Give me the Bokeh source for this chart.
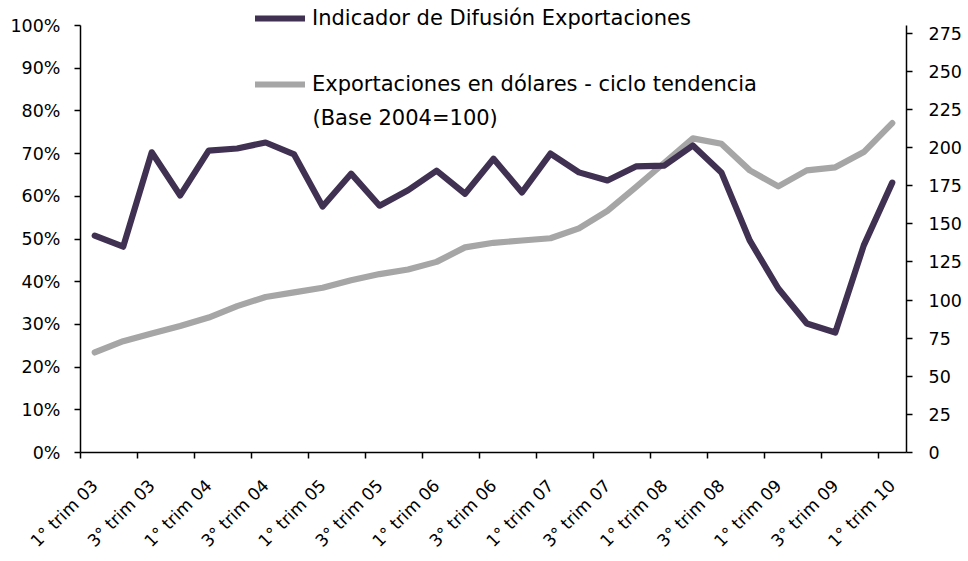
import math
from bokeh.plotting import figure
from bokeh.models import (Range1d, LinearAxis, FixedTicker, NumeralTickFormatter,
                          Legend, LegendItem, Label)
from bokeh.embed import file_html
from bokeh.resources import INLINE

# ---- data -------------------------------------------------------------
quarters = []
for yy in ["03", "04", "05", "06", "07", "08", "09"]:
    for q in ["1°", "2°", "3°", "4°"]:
        quarters.append(f"{q} trim {yy}")
quarters.append("1° trim 10")

# Indicador de Difusión Exportaciones (share, left axis)
indicador = [0.508, 0.482, 0.703, 0.602, 0.707, 0.712, 0.726, 0.698, 0.576, 0.653,
             0.578, 0.614, 0.660, 0.606, 0.688, 0.609, 0.700, 0.656, 0.637, 0.670,
             0.672, 0.719, 0.656, 0.496, 0.384, 0.302, 0.281, 0.485, 0.632]

# Exportaciones en dólares - ciclo tendencia (Base 2004=100, right axis)
exportaciones = [65.6, 73, 78, 83, 88.5, 96, 102, 105, 108, 113,
                 117, 120, 125, 134.5, 137.5, 139, 140.5, 147, 158.5, 174,
                 190, 206, 202.5, 185, 174.5, 185, 187, 197, 216]

left_ticks = [0.0, 0.1, 0.2, 0.3, 0.4, 0.5, 0.6, 0.7, 0.8, 0.9, 1.0]
right_ticks = [0, 25, 50, 75, 100, 125, 150, 175, 200, 225, 250, 275]
LEFT_MAX = 1.0
RIGHT_MAX = 280

x = list(range(len(quarters)))

FONT = "DejaVu Sans"
YFS = "17.5px"
XFS = "17px"
LFS = "21px"
DARK = "#403052"
GRAY = "#a6a6a6"
LW = 6.2

# frame spans page y 2..452; axes themselves are drawn 0..max (page y 25..452)
TOP_PAD = 23.0 / 427.0
p = figure(width=968, height=561, output_backend="svg", toolbar_location=None,
           x_range=Range1d(-0.5, len(quarters) - 0.5),
           y_range=Range1d(0, LEFT_MAX * (1 + TOP_PAD)),
           min_border_left=80, min_border_right=62, min_border_top=2,
           min_border_bottom=109)
p.extra_y_ranges = {"y2": Range1d(0, RIGHT_MAX * (1 + TOP_PAD))}
p.xgrid.visible = False
p.ygrid.visible = False
p.outline_line_color = None
p.background_fill_color = "white"
p.border_fill_color = "white"

r2 = p.line(x, exportaciones, y_range_name="y2", line_color=GRAY, line_width=LW,
            line_join="round", line_cap="round")
r1 = p.line(x, indicador, line_color=DARK, line_width=LW,
            line_join="round", line_cap="round")

# x axis
xa = p.xaxis[0]
major = list(range(0, len(quarters), 2))
xa.ticker = FixedTicker(ticks=major,
                        minor_ticks=[m - 0.5 for m in major])
xa.major_label_overrides = {i: quarters[i] for i in major}
xa.major_label_orientation = math.pi / 4
xa.major_tick_out = 0
xa.major_tick_in = 0
xa.minor_tick_out = 6
xa.minor_tick_in = 0
xa.minor_tick_line_color = "black"
xa.minor_tick_line_width = 1.5
xa.axis_line_color = "black"
xa.axis_line_width = 1.5
xa.major_label_standoff = 24
xa.major_label_text_font = FONT
xa.major_label_text_font_size = XFS
xa.major_label_text_color = "black"

# left axis
ya = p.yaxis[0]
ya.ticker = FixedTicker(ticks=left_ticks)
ya.formatter = NumeralTickFormatter(format="0%")
ya.bounds = (0, LEFT_MAX)
ya.major_tick_out = 6
ya.major_tick_in = 0
ya.minor_tick_out = 0
ya.minor_tick_in = 0
ya.major_tick_line_width = 1.5
ya.axis_line_width = 1.5
ya.axis_line_color = "black"
ya.major_label_standoff = 14
ya.major_label_text_font = FONT
ya.major_label_text_font_size = YFS
ya.major_label_text_color = "black"

# right axis
ra = LinearAxis(y_range_name="y2", ticker=FixedTicker(ticks=right_ticks),
                bounds=(0, RIGHT_MAX))
ra.major_tick_out = 6
ra.major_tick_in = 0
ra.minor_tick_out = 0
ra.minor_tick_in = 0
ra.major_tick_line_width = 1.5
ra.axis_line_width = 1.5
ra.axis_line_color = "black"
ra.major_label_standoff = 16
ra.major_label_text_font = FONT
ra.major_label_text_font_size = YFS
ra.major_label_text_color = "black"
p.add_layout(ra, "right")

legend = Legend(items=[
    LegendItem(label="Indicador de Difusión Exportaciones", renderers=[r1]),
    LegendItem(label="Exportaciones en dólares - ciclo tendencia", renderers=[r2]),
], location=(175, 355))
legend.padding = 0
legend.margin = 0
legend.spacing = 40
legend.glyph_width = 50
legend.glyph_height = 26
legend.label_height = 26
legend.label_standoff = 7
legend.border_line_color = None
legend.background_fill_alpha = 0
legend.label_text_font = FONT
legend.label_text_font_size = LFS
legend.label_text_color = "black"
p.add_layout(legend)

p.add_layout(Label(x=7.645, y=0.7845, text="(Base 2004=100)", text_baseline="middle",
                   text_font=FONT, text_font_size=LFS, text_color="black"))

open("out.html", "w").write(file_html(p, INLINE))
